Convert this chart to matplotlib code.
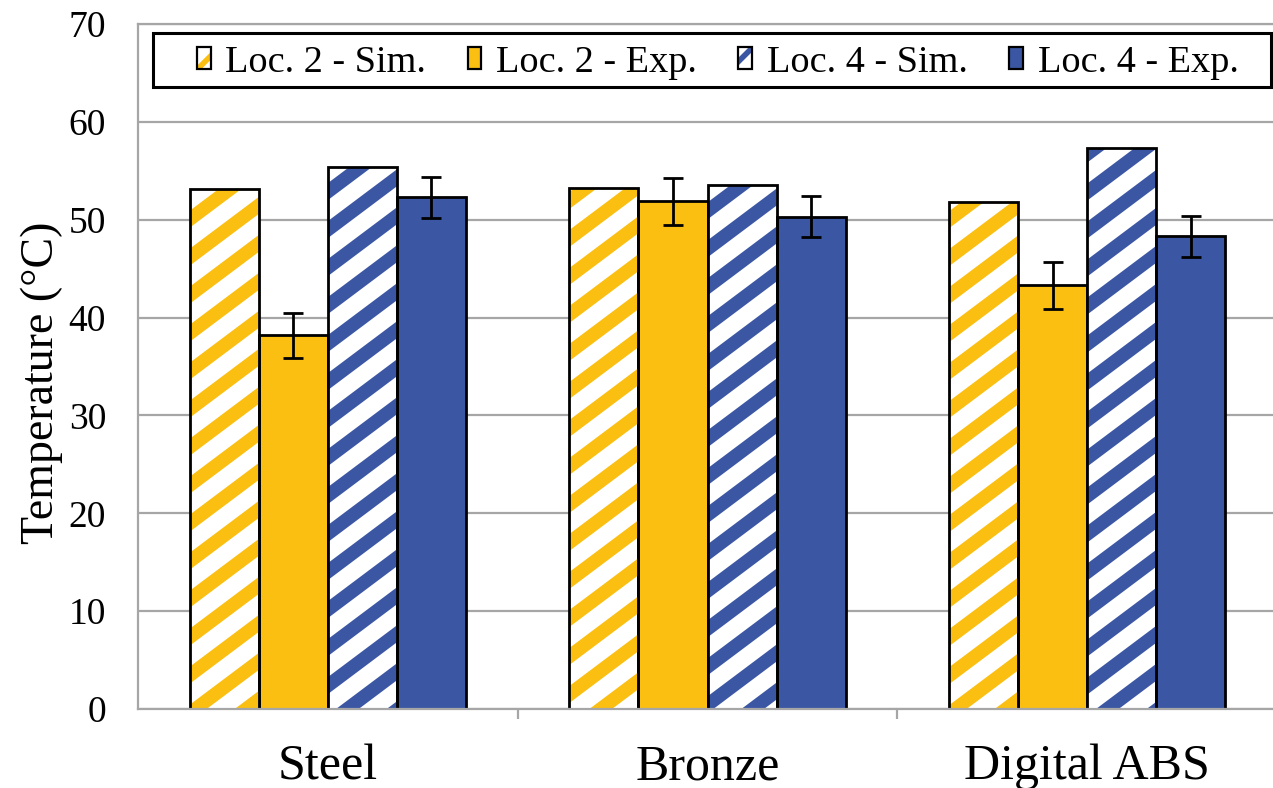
import numpy as np
import matplotlib
matplotlib.use("Agg")
import matplotlib.pyplot as plt
from matplotlib.patches import Patch, Rectangle
from matplotlib.collections import PolyCollection
from matplotlib.transforms import IdentityTransform
from matplotlib.legend_handler import HandlerTuple

plt.rcParams['font.family'] = ['Liberation Serif', 'DejaVu Serif']
plt.rcParams['hatch.linewidth'] = 4

materials = ['Steel', 'Bronze', 'Digital ABS']
loc2_sim = [53.1, 53.2, 51.8]
loc2_exp = [38.2, 51.9, 43.3]
loc4_sim = [55.4, 53.5, 57.3]
loc4_exp = [52.3, 50.3, 48.3]
loc2_err = [2.3, 2.4, 2.4]
loc4_err = [2.1, 2.1, 2.1]
series_names = ['Loc. 2 - Sim.', 'Loc. 2 - Exp.', 'Loc. 4 - Sim.', 'Loc. 4 - Exp.']

yellow = '#FBBF12'
blue = '#3B57A4'
grey = '#A6A6A6'


def add_stripes(ax, rect, color, period=38, thick=17, slope=0.75):
    # diagonal stripes in pixel space, clipped to the bar
    x0, y0 = ax.transData.transform((rect.get_x(), rect.get_y()))
    x1, y1 = ax.transData.transform((rect.get_x() + rect.get_width(),
                                     rect.get_y() + rect.get_height()))
    c = np.floor((y0 - slope * x1 - period) / period) * period
    polys = []
    while c < y1 - slope * x0:
        polys.append([(x0, c + slope * x0), (x1, c + slope * x1),
                      (x1, c + thick + slope * x1), (x0, c + thick + slope * x0)])
        c += period
    pc = PolyCollection(polys, facecolors=color, edgecolors='none',
                        transform=IdentityTransform(), zorder=2.1)
    ax.add_collection(pc, autolim=False)
    # clip after adding, otherwise the axes clip box replaces it
    pc.set_clip_path(rect)


fig = plt.figure(figsize=(12.73, 7.88), dpi=100)
ax = fig.add_axes([138 / 1273, 79 / 788, 1139 / 1273, 685 / 788])
ax.set_xlim(-0.5, 2.5)
ax.set_ylim(0, 70)

x = np.arange(len(materials))
w = 0.182
lw = 2

# Loc. 2 simulated (striped)
sim2 = ax.bar(x - 1.5 * w, loc2_sim, w, facecolor='white', edgecolor='none', zorder=2)
for r in sim2:
    add_stripes(ax, r, yellow)
ax.bar(x - 1.5 * w, loc2_sim, w, fill=False, edgecolor='black', linewidth=lw, zorder=2.2)

# Loc. 2 experimental
ax.bar(x - 0.5 * w, loc2_exp, w, color=yellow, edgecolor='black', linewidth=lw, zorder=2)
ax.errorbar(x - 0.5 * w, loc2_exp, yerr=loc2_err, fmt='none', ecolor='black',
            elinewidth=2, capsize=7, capthick=2, zorder=3)

# Loc. 4 simulated (striped)
sim4 = ax.bar(x + 0.5 * w, loc4_sim, w, facecolor='white', edgecolor='none', zorder=2)
for r in sim4:
    add_stripes(ax, r, blue)
ax.bar(x + 0.5 * w, loc4_sim, w, fill=False, edgecolor='black', linewidth=lw, zorder=2.2)

# Loc. 4 experimental
ax.bar(x + 1.5 * w, loc4_exp, w, color=blue, edgecolor='black', linewidth=lw, zorder=2)
ax.errorbar(x + 1.5 * w, loc4_exp, yerr=loc4_err, fmt='none', ecolor='black',
            elinewidth=2, capsize=7, capthick=2, zorder=3)

# axes styling
ax.set_axisbelow(True)
ax.yaxis.grid(True, color=grey, linewidth=1.6)
ax.set_yticks(np.arange(0, 71, 10))
ax.tick_params(axis='y', length=0, pad=23, labelsize=27)
ax.set_xticks([0.5, 1.5])
ax.set_xticklabels([])
ax.tick_params(axis='x', which='major', length=7, width=1.6, color=grey)
ax.set_xticks(x, minor=True)
ax.set_xticklabels(materials, minor=True)
ax.tick_params(axis='x', which='minor', length=0, pad=25, labelsize=36)
for side in ['left', 'bottom', 'top']:
    ax.spines[side].set_color(grey)
    ax.spines[side].set_linewidth(1.6)
ax.spines['right'].set_visible(False)

ax.set_ylabel('Temperature (°C)', fontsize=33)
ax.yaxis.set_label_coords(-0.066, 0.476)

# legend
h_sim2 = (Patch(facecolor='white', edgecolor=yellow, hatch='/', linewidth=0),
          Patch(facecolor='none', edgecolor='black', linewidth=1.6))
h_exp2 = Patch(facecolor=yellow, edgecolor='black', linewidth=1.6)
h_sim4 = (Patch(facecolor='white', edgecolor=blue, hatch='/', linewidth=0),
          Patch(facecolor='none', edgecolor='black', linewidth=1.6))
h_exp4 = Patch(facecolor=blue, edgecolor='black', linewidth=1.6)
ax.legend([h_sim2, h_exp2, h_sim4, h_exp4], series_names,
          handler_map={tuple: HandlerTuple(ndivide=1)},
          loc='center', bbox_to_anchor=(0.509, 0.944), ncol=4, frameon=False,
          fontsize=27.5, handlelength=0.36, handleheight=0.5, handletextpad=0.39,
          columnspacing=1.08, borderpad=0, borderaxespad=0)
ax.add_patch(Rectangle((0.0132, 0.908), 0.9815, 0.0789, transform=ax.transAxes,
                       facecolor='white', edgecolor='black', linewidth=2.2,
                       zorder=4))
ax.get_legend().set_zorder(5)

fig.savefig('out.png', dpi=100)
